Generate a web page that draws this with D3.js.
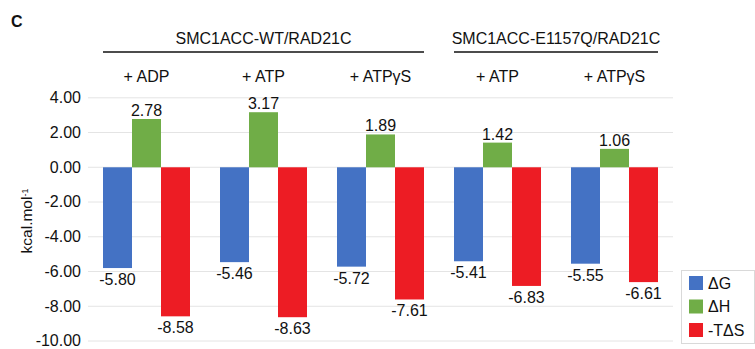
<!DOCTYPE html>
<html><head><meta charset="utf-8">
<script src="https://cdn.jsdelivr.net/npm/d3@7"></script>
<style>
body{margin:0;background:#fff;}
text{font-family:"Liberation Sans",Arial,Helvetica,sans-serif;fill:#111;}
</style></head>
<body><svg id="c" width="755" height="349"></svg>
<script>
const categories = ["+ ADP","+ ATP","+ ATPγS","+ ATP","+ ATPγS"];
const catKeys = ["wt_adp","wt_atp","wt_atpgs","eq_atp","eq_atpgs"];
const seriesNames = ["ΔG","ΔH","-TΔS"];
const dG  = [-5.80,-5.46,-5.72,-5.41,-5.55];
const dH  = [2.78,3.17,1.89,1.42,1.06];
const TdS = [-8.58,-8.63,-7.61,-6.83,-6.61];
const colors = ["#4472C4","#70AD47","#ED1C24"];
const yTicks = [4,2,0,-2,-4,-6,-8,-10];
const yTickLabels = ["4.00","2.00","0.00","-2.00","-4.00","-6.00","-8.00","-10.00"];
const groups = [
  {name:"SMC1ACC-WT/RAD21C", from:0, to:2},
  {name:"SMC1ACC-E1157Q/RAD21C", from:3, to:4}
];

const svg = d3.select("#c");
const seriesVals = [dG,dH,TdS];
const x = d3.scaleBand().domain(catKeys).range([88,673]).paddingInner(30/117).paddingOuter(15/117);
const xs = d3.scaleBand().domain(seriesNames).range([0,x.bandwidth()]);
const y = d3.scaleLinear().domain([-10,4]).range([341,97.8]);

// gridlines
svg.append("g").selectAll("line").data(yTicks).join("line")
  .attr("x1",88).attr("x2",673).attr("y1",d=>y(d)).attr("y2",d=>y(d))
  .attr("stroke","#e4e4e4").attr("stroke-width",1);

// y tick labels
svg.append("g").selectAll("text").data(yTicks).join("text")
  .attr("x",81).attr("y",d=>y(d)).attr("dy","0.34em")
  .attr("text-anchor","end").style("font-size","16px")
  .text((d,i)=>yTickLabels[i]);

// bars
const g = svg.append("g");
catKeys.forEach((k,ci)=>{
  seriesNames.forEach((s,si)=>{
    const v = seriesVals[si][ci];
    const bx = x(k)+xs(s);
    g.append("rect").attr("x",bx).attr("width",xs.bandwidth())
      .attr("y",Math.min(y(v),y(0))).attr("height",Math.abs(y(v)-y(0)))
      .attr("fill",colors[si]);
    g.append("text").attr("x",bx+xs.bandwidth()/2)
      .attr("y", v>=0 ? y(v)-3 : y(v)+17)
      .attr("text-anchor","middle").style("font-size","16px")
      .text(v.toFixed(2));
  });
});

// category labels
svg.append("g").selectAll("text").data(catKeys).join("text")
  .attr("x",d=>x(d)+x.bandwidth()/2).attr("y",82)
  .attr("text-anchor","middle").style("font-size","16px")
  .text((d,i)=>categories[i]);

// group headers
groups.forEach(gr=>{
  const x1 = x(catKeys[gr.from]), x2 = x(catKeys[gr.to])+x.bandwidth();
  svg.append("line").attr("x1",x1).attr("x2",x2).attr("y1",52).attr("y2",52)
    .attr("stroke","#111").attr("stroke-width",1.3);
  svg.append("text").attr("x",(x1+x2)/2).attr("y",44).attr("text-anchor","middle")
    .style("font-size","16px").text(gr.name);
});

// panel letter
svg.append("text").attr("x",11).attr("y",27).style("font-size","16px").style("font-weight","bold").text("C");

// y axis title
const yt = svg.append("text").attr("transform","translate(32,221) rotate(-90)")
  .attr("text-anchor","middle").style("font-size","15.5px");
yt.append("tspan").text("kcal.mol");
yt.append("tspan").attr("dy","-0.5em").style("font-size","9px").text("-1");

// legend
const lg = svg.append("g").attr("transform","translate(681,270)");
lg.append("rect").attr("x",0.5).attr("y",0.5).attr("width",73).attr("height",73)
  .attr("fill","#fff").attr("stroke","#d9d9d9");
seriesNames.forEach((s,i)=>{
  lg.append("rect").attr("x",8).attr("y",6+i*23.5).attr("width",14).attr("height",14).attr("fill",colors[i]);
  lg.append("text").attr("x",27).attr("y",13+i*23.5).attr("dy","0.36em").style("font-size","16px").text(s);
});
</script></body></html>
